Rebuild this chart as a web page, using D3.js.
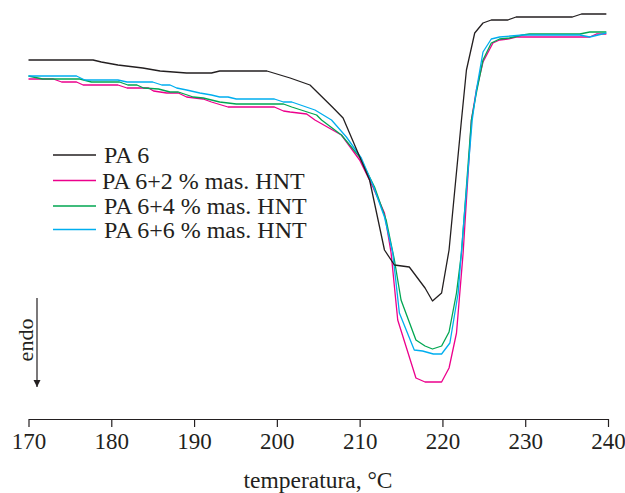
<!DOCTYPE html>
<html>
<head>
<meta charset="utf-8">
<script src="https://cdn.jsdelivr.net/npm/d3@7"></script>
<style>
  body { margin: 0; background: #fff; }
  text { font-family: "Liberation Serif", "Times New Roman", serif; fill: #231f20; }
</style>
</head>
<body>
<div id="chart-area"></div>
<script>
// DSC heating curves, signal in arbitrary units (endo down)
var seriesNames = ["PA 6", "PA 6+2 % mas. HNT", "PA 6+4 % mas. HNT", "PA 6+6 % mas. HNT"];
var seriesColors = ["#231f20", "#ec008c", "#00a651", "#00aeef"];
var xTicks = [170, 180, 190, 200, 210, 220, 230, 240];

var tempPA6 = [170, 177.8, 178.8, 180.8, 183.8, 185.9, 189.1, 192.1, 193.1, 198.8, 201.6, 204.0, 206.7, 208.0, 211.2, 213.0, 214.2, 216.0, 217.9, 218.8, 219.9, 220.8, 222.3, 222.9, 223.9, 224.9, 225.9, 227.9, 228.9, 235.7, 236.8, 239.8];
var valPA6 = [36.1, 36.1, 35.9, 35.6, 35.3, 35.0, 34.8, 34.8, 35.0, 35.0, 34.3, 33.6, 31.4, 30.3, 24.1, 17.1, 15.6, 15.4, 13.3, 12.0, 12.8, 17.1, 30.1, 35.1, 38.8, 39.8, 40.1, 40.1, 40.4, 40.4, 40.7, 40.7];

var temp2 = [170, 173.0, 174.0, 175.8, 176.6, 180.8, 181.9, 184.5, 185.1, 186.7, 188.1, 189.1, 191.1, 192.1, 194.1, 199.7, 200.8, 201.6, 203.6, 204.6, 207.8, 210.0, 211.6, 213.0, 213.8, 214.6, 216.8, 217.9, 219.9, 220.8, 221.7, 222.5, 223.5, 224.1, 224.9, 226.1, 226.9, 227.9, 228.9, 237.8, 238.6, 239.8];
var val2 = [34.2, 34.2, 33.9, 33.9, 33.6, 33.6, 33.3, 33.3, 33.0, 32.8, 32.8, 32.4, 32.2, 31.9, 31.4, 31.4, 31.0, 30.9, 30.7, 30.1, 28.6, 26.1, 23.4, 20.8, 16.8, 10.1, 4.3, 3.9, 3.9, 5.3, 8.8, 16.8, 30.1, 33.1, 35.9, 37.8, 38.1, 38.2, 38.4, 38.4, 38.7, 38.7];

var temp4 = [170, 171.7, 176.2, 177.6, 181.0, 182.0, 183.1, 183.9, 185.7, 187.1, 188.1, 189.9, 191.1, 193.1, 195.1, 200.8, 201.8, 204.8, 205.4, 207.8, 210.0, 211.8, 213.2, 214.2, 215.0, 216.8, 217.9, 218.8, 219.9, 220.8, 221.7, 222.3, 223.5, 224.1, 224.9, 225.9, 226.9, 228.1, 229.7, 230.5, 236.6, 237.8, 239.8];
var val4 = [34.5, 34.2, 34.2, 33.9, 33.9, 33.6, 33.6, 33.3, 33.2, 32.9, 32.9, 32.4, 32.3, 31.9, 31.7, 31.7, 31.4, 30.6, 30.1, 28.6, 26.4, 23.4, 20.1, 16.1, 12.1, 8.1, 7.5, 7.2, 7.5, 8.9, 12.8, 16.8, 30.1, 32.8, 36.1, 37.8, 38.2, 38.3, 38.6, 38.7, 38.7, 38.9, 38.9];

var temp6 = [170, 175.8, 176.8, 180.8, 181.9, 185.0, 186.1, 187.1, 187.9, 189.1, 190.7, 192.1, 193.1, 194.1, 195.1, 199.7, 200.8, 201.8, 204.6, 206.6, 208.4, 210.2, 211.6, 213.0, 214.0, 214.8, 216.6, 217.6, 218.9, 219.9, 220.9, 221.9, 222.5, 223.6, 224.1, 224.9, 225.9, 226.9, 229.7, 236.6, 237.8, 239.8];
var val6 = [34.5, 34.5, 34.1, 34.1, 33.9, 33.9, 33.6, 33.6, 33.3, 33.1, 32.8, 32.6, 32.4, 32.4, 32.2, 32.2, 31.9, 31.9, 31.1, 30.1, 28.4, 26.3, 23.6, 20.4, 16.8, 10.8, 7.1, 7.0, 6.7, 6.7, 7.8, 12.8, 19.1, 30.1, 33.1, 36.9, 38.2, 38.4, 38.6, 38.6, 38.4, 38.8];

var temps = [tempPA6, temp2, temp4, temp6];
var vals = [valPA6, val2, val4, val6];

var width = 625, height = 493;

var svg = d3.select("#chart-area").append("svg")
  .attr("width", width)
  .attr("height", height);

var x = d3.scaleLinear().domain([170, 240]).range([28.5, 608]);
var y = d3.scaleLinear().domain([0, 42.1]).range([421, 0]);

var line = d3.line()
  .x((d) => { return x(d[0]); })
  .y((d) => { return y(d[1]); });

// curves (PA 6 last so it sits on top)
[1, 2, 3, 0].forEach((i) => {
  var pts = temps[i].map((t, j) => { return [t, vals[i][j]]; });
  svg.append("path")
    .attr("d", line(pts))
    .attr("fill", "none")
    .attr("stroke", seriesColors[i])
    .attr("stroke-width", 1.3)
    .attr("stroke-linejoin", "round");
});

// x axis
var xAxis = svg.append("g")
  .attr("transform", "translate(0,419)")
  .call(d3.axisBottom(x).tickValues(xTicks).tickSize(8).tickSizeOuter(0).tickPadding(6));
xAxis.select(".domain").attr("stroke", "#231f20").attr("stroke-width", 1.2);
xAxis.selectAll(".tick line").attr("stroke", "#231f20").attr("stroke-width", 1.2);
xAxis.selectAll(".tick text")
  .style("font-family", "Liberation Serif, serif")
  .style("font-size", "23px")
  .attr("fill", "#231f20");

svg.append("text")
  .attr("x", 318)
  .attr("y", 488)
  .attr("text-anchor", "middle")
  .style("font-size", "23.5px")
  .text("temperatura, °C");

// endo arrow
svg.append("defs").append("marker")
  .attr("id", "arr")
  .attr("viewBox", "0 0 10 10")
  .attr("refX", 10).attr("refY", 5)
  .attr("markerWidth", 7).attr("markerHeight", 8)
  .attr("markerUnits", "userSpaceOnUse")
  .attr("orient", "auto")
  .append("path").attr("d", "M0,0 L10,5 L0,10 z").attr("fill", "#231f20");

svg.append("line")
  .attr("x1", 37).attr("y1", 298)
  .attr("x2", 37).attr("y2", 387)
  .attr("stroke", "#231f20")
  .attr("stroke-width", 1.2)
  .attr("marker-end", "url(#arr)");

svg.append("text")
  .attr("transform", "translate(33,340) rotate(-90)")
  .attr("text-anchor", "middle")
  .style("font-size", "22px")
  .text("endo");

// legend
var legY = [155, 180.5, 206, 229.5];
var leg = svg.selectAll(".leg")
  .data(seriesNames)
  .enter()
  .append("g")
  .attr("class", "leg")
  .attr("transform", (d, i) => { return "translate(53," + legY[i] + ")"; });

leg.append("line")
  .attr("x1", 0).attr("x2", 43)
  .attr("stroke", (d, i) => { return seriesColors[i]; })
  .attr("stroke-width", 1.5);

leg.append("text")
  .attr("x", (d, i) => { return i == 1 ? 49 : 51; })
  .attr("y", 8)
  .style("font-size", "24px")
  .text((d) => { return d; });
</script>
</body>
</html>
